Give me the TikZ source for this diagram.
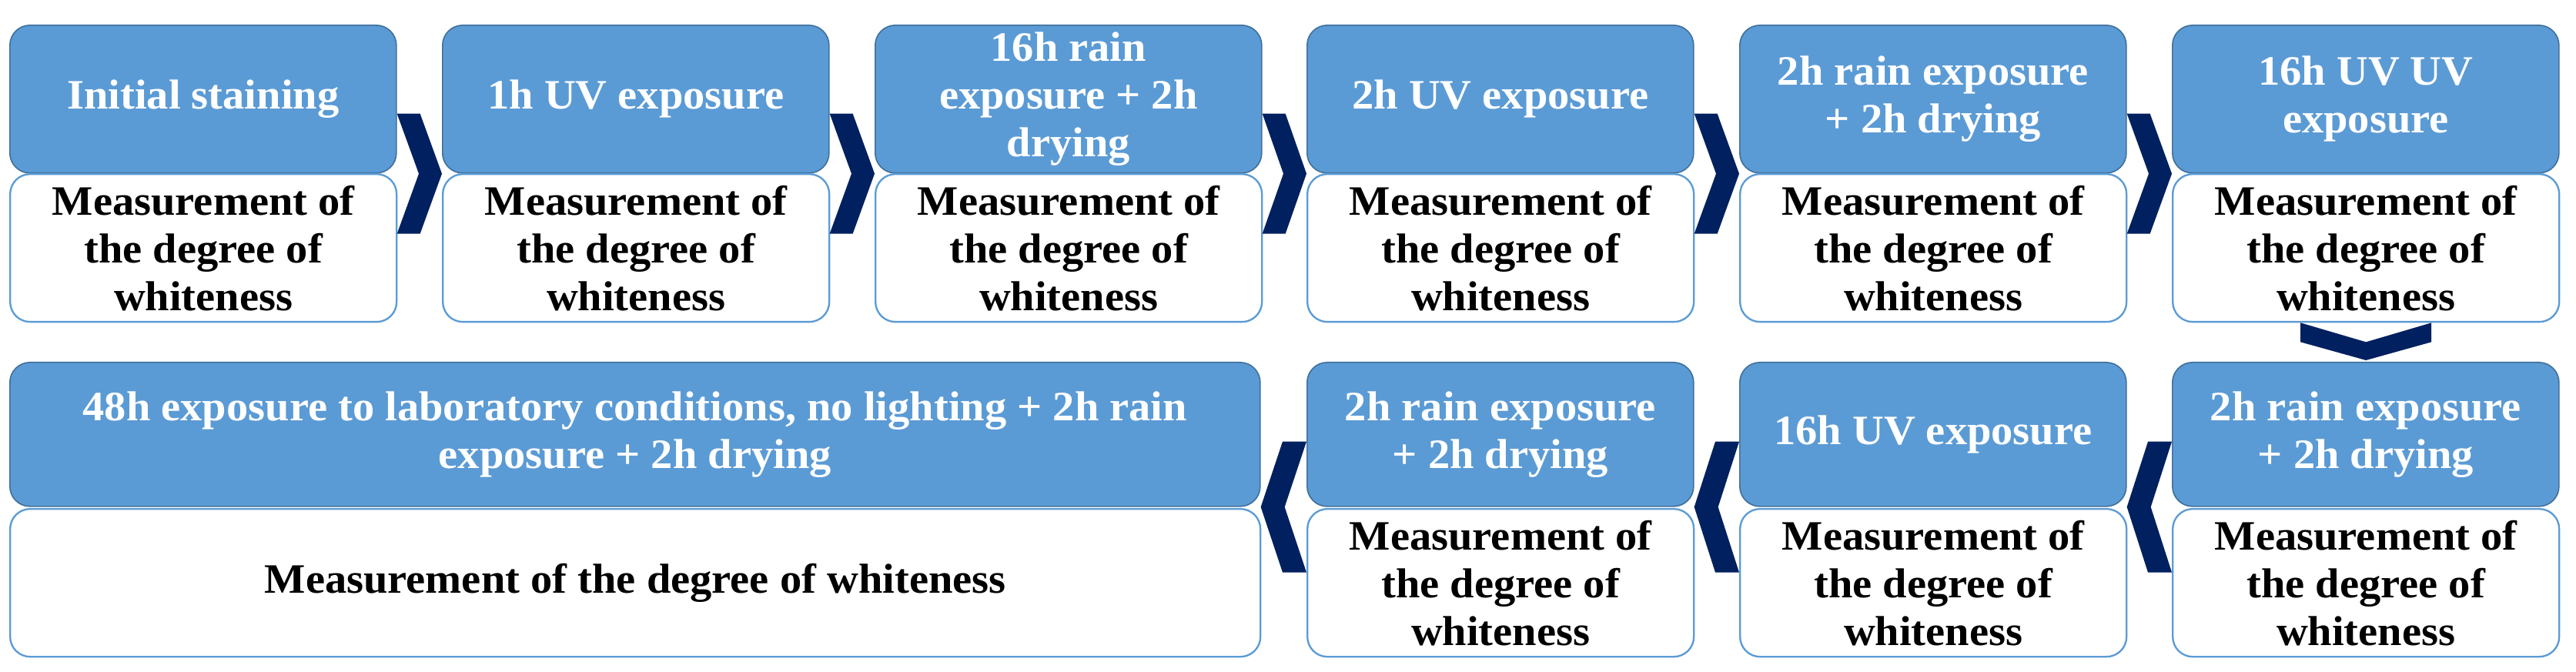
\documentclass[tikz,border=0pt]{standalone}
\usepackage{fontspec}
\setmainfont{Liberation Serif}[FakeStretch=1.04]
\usetikzlibrary{calc}
\definecolor{sblue}{RGB}{91,155,213}
\definecolor{bdark}{RGB}{65,113,156}
\definecolor{navy}{RGB}{0,32,96}
\newcommand{\txtsize}{\fontsize{16.3pt}{18.6pt}\selectfont\bfseries}
\tikzset{
  headbox/.style={draw=bdark, fill=sblue, line width=0.5pt, rounded corners=7.8pt,
    minimum width=150.6pt, minimum height=57.6pt, anchor=north west, inner sep=0pt,
    align=center, text=white, font=\txtsize},
  bodybox/.style={draw=sblue, fill=white, line width=0.7pt, rounded corners=7.8pt,
    minimum width=150.6pt, minimum height=57.6pt, anchor=north west, inner sep=0pt,
    align=center, text=black, font=\txtsize},
  chevfill/.style={fill=navy, draw=none}
}
\begin{document}
\begin{tikzpicture}
\useasboundingbox (0,0) rectangle (1003.8pt,-261.9pt);
% top row heads
\node[headbox] (t1) at (3.6pt,-9.6pt) {Initial staining};
\node[headbox] (t2) at (172.2pt,-9.6pt) {1h UV exposure};
\node[headbox] (t3) at (340.8pt,-9.6pt) {16h rain\\exposure + 2h\\drying};
\node[headbox] (t4) at (509.1pt,-9.6pt) {2h UV exposure};
\node[headbox] (t5) at (677.7pt,-9.6pt) {2h rain exposure\\+ 2h drying};
\node[headbox] (t6) at (846.3pt,-9.6pt) {16h UV UV\\exposure};
% top row bodies
\foreach \n/\x in {1/3.6,2/172.2,3/340.8,4/509.1,5/677.7,6/846.3}{
  \node[bodybox] (w\n) at (\x pt,-67.5pt) {Measurement of\\the degree of\\whiteness};
}
% bottom row heads
\node[headbox, minimum width=487.2pt, minimum height=56.1pt] (t7) at (3.6pt,-141pt) {48h exposure to laboratory conditions, no lighting + 2h rain\\exposure + 2h drying};
\node[headbox, minimum height=56.1pt] (t8) at (509.1pt,-141pt) {2h rain exposure\\+ 2h drying};
\node[headbox, minimum height=56.1pt] (t9) at (677.7pt,-141pt) {16h UV exposure};
\node[headbox, minimum height=56.1pt] (t10) at (846.3pt,-141pt) {2h rain exposure\\+ 2h drying};
% bottom row bodies
\node[bodybox, minimum width=487.2pt] (w7) at (3.6pt,-198pt) {Measurement of the degree of whiteness};
\node[bodybox] (w8) at (509.1pt,-198pt) {Measurement of\\the degree of\\whiteness};
\node[bodybox] (w9) at (677.7pt,-198pt) {Measurement of\\the degree of\\whiteness};
\node[bodybox] (w10) at (846.3pt,-198pt) {Measurement of\\the degree of\\whiteness};
% right-pointing chevrons (top row)
\foreach \a/\b in {t1/t2,t2/t3,t3/t4,t4/t5,t5/t6}{
  \fill[chevfill] let \p1=(\a.south east), \p2=(\b.south west) in
    (\x1,\y1+23.4pt) -- (\x1+9pt,\y1+23.4pt) -- (\x2,\y1) -- (\x1+9pt,\y1-23.4pt)
    -- (\x1,\y1-23.4pt) -- (\x2-9pt,\y1) -- cycle;
}
% left-pointing chevrons (bottom row)
\foreach \a/\b in {t7/t8,t8/t9,t9/t10}{
  \fill[chevfill] let \p1=(\a.south east), \p2=(\b.south west) in
    (\x2,\y1+25.5pt) -- (\x2-9.3pt,\y1+25.5pt) -- (\x1,\y1) -- (\x2-9.3pt,\y1-25.5pt)
    -- (\x2,\y1-25.5pt) -- (\x1+9.3pt,\y1) -- cycle;
}
% downward chevron
\fill[chevfill] let \p1=(w6.south), \p2=(t10.north) in
  (\x1-25.5pt,\y1) -- (\x1,\y1-7.5pt) -- (\x1+25.5pt,\y1) -- (\x1+25.5pt,\y1-7.5pt)
  -- (\x1,\y2+0.6pt) -- (\x1-25.5pt,\y1-7.5pt) -- cycle;
\end{tikzpicture}
\end{document}
